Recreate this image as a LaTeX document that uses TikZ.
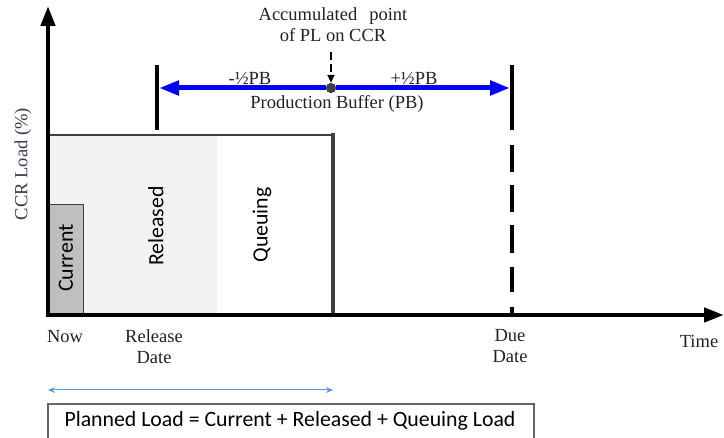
\documentclass[tikz,border=0pt]{standalone}
\usepackage{fontspec}
\setmainfont{Liberation Serif}
\newfontfamily\calfont{Carlito}
\usetikzlibrary{arrows.meta}
\definecolor{relgray}{HTML}{F2F2F2}
\definecolor{curgray}{HTML}{BFBFBF}
\definecolor{edgegray}{HTML}{404040}
\definecolor{pbblue}{HTML}{0000FF}
\definecolor{lblue}{HTML}{5B9BD5}
\definecolor{txt}{HTML}{222222}
\definecolor{ylabc}{HTML}{353B52}
\tikzset{
  serif/.style={font=\fontsize{18.5}{21}\selectfont, text=txt, inner sep=0pt, align=center},
  sans/.style={font=\calfont\fontsize{21.8}{24}\selectfont, text=black, inner sep=0pt},
  axis/.style={line width=4.5pt, -{Triangle[length=20pt,width=14pt]}},
  marker/.style={line width=4pt},
}
\begin{document}
\begin{tikzpicture}[x=1pt,y=-1pt]
\useasboundingbox (0,0) rectangle (724,438);
% regions
\fill[relgray] (48,135) rectangle (217,315);
\fill[white] (217,135) rectangle (333,315);
\draw[edgegray, line width=1.2pt] (48,135) -- (333,135);
\draw[edgegray, line width=4pt] (333,133) -- (333,315);
\draw[fill=curgray, draw=edgegray, line width=0.8pt] (48,204) rectangle (83,315);
\node[sans, rotate=90] (cur) at (66,258) {Current};
\node[sans, rotate=90] (rel) at (156,226) {Released};
\node[sans, rotate=90] (que) at (262,225) {Queuing};
% axes
\coordinate (origin) at (48,315);
\coordinate (ytop) at (48,6);
\coordinate (xend) at (724,315);
\draw[axis] (48,317) -- (ytop);
\draw[axis] (46,315) -- (xend);
% markers
\coordinate (reltop) at (157,65);
\coordinate (relbot) at (157,130);
\draw[marker] (reltop) -- (relbot);
\coordinate (duetop) at (512,65);
\coordinate (duebot) at (512,315);
\draw[marker, dash pattern=on 65pt off 15pt on 27pt off 13pt on 27pt off 13pt on 28pt off 14pt on 25pt off 15pt on 20pt off 10pt] (duetop) -- (duebot);
% production buffer arrow
\coordinate (pbl) at (159,88);
\coordinate (pbr) at (510,88);
\node[circle, fill=edgegray, minimum size=10pt, inner sep=0pt] (dot) at (331,88) {};
\draw[pbblue, line width=5pt, -{Triangle[length=20pt,width=14pt]}] (dot) -- (pbl);
\draw[pbblue, line width=5pt, -{Triangle[length=20pt,width=14pt]}] (dot) -- (pbr);
\node[circle, fill=edgegray, minimum size=10pt, inner sep=0pt] at (dot) {};
\coordinate (acctop) at (331,52);
\draw[line width=1.6pt, dash pattern=on 8pt off 4pt, -{Triangle[length=8pt,width=7pt]}] (acctop) -- (dot.north);
% texts
\node[serif] (acc) at (333,25) {Accumulated\hspace{0.4em} point\\of PL on CCR};
\node[serif] (mpb) at (250,78) {-½PB};
\node[serif] (ppb) at (414,78) {+½PB};
\node[serif] (pb) at (337,104) {Production Buffer (PB)};
\node[serif, rotate=90, text=ylabc] (ylab) at (23,164) {CCR Load (\%)};
\node[serif] (now) at (65,337) {Now};
\node[serif] (reld) at (154,347) {Release\\Date};
\node[serif] (dued) at (510,346) {Due\\Date};
\node[serif] (time) at (699,341) {Time};
% planned load
\coordinate (pll) at (48,390);
\coordinate (plr) at (333,390);
\draw[lblue, line width=1pt, {Stealth[length=7pt,width=6pt]}-{Stealth[length=7pt,width=6pt]}] (pll) -- (plr);
\draw[draw=edgegray!80, line width=1.2pt, fill=white] (48,404) rectangle (534,446);
\node[sans] (pl) at (290,421) {Planned Load = Current + Released + Queuing Load};
\end{tikzpicture}
\end{document}
